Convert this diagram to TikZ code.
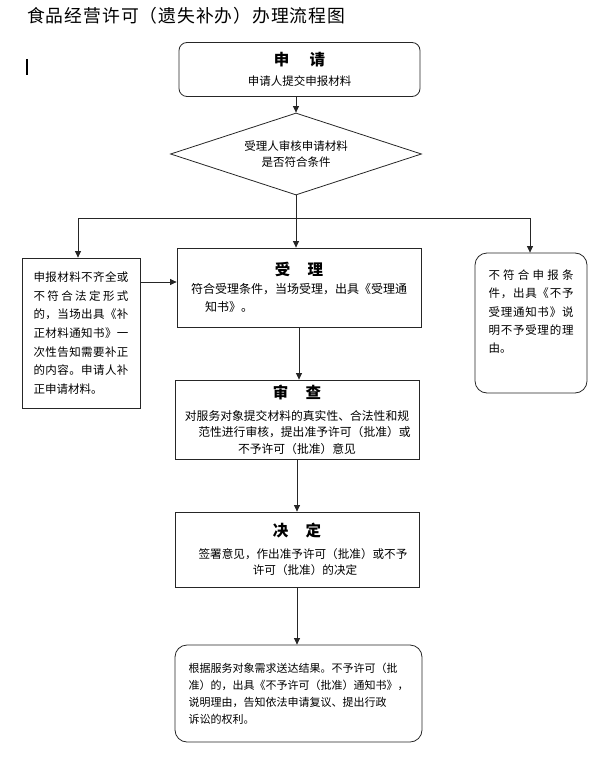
\documentclass[tikz,border=0pt]{standalone}
\usepackage{fontspec}
\setmainfont{Noto Sans CJK SC}
\usetikzlibrary{shapes.geometric,arrows.meta}
\def\sprd#1{\sprdB#1\relax}
\def\sprdB#1{#1\sprdA}
\def\sprdA#1{\ifx#1\relax\else\hfill#1\expandafter\sprdA\fi}
\newcommand\jline[2][95pt]{\makebox[#1][s]{\sprd{#2}}}
\newcommand\hd{\fontsize{15.5}{17}\selectfont\bfseries}
\tikzset{
  box/.style={draw=black!85, line width=0.8pt, inner sep=2pt, align=center,
    font=\fontsize{11.5}{17}\selectfont},
  rbox/.style={box, rounded corners=8pt},
  arr/.style={draw=black!85, line width=0.8pt, -{Triangle[length=6.5pt,width=6pt]}},
  ln/.style={draw=black!85, line width=0.8pt}
}
\begin{document}
\begin{tikzpicture}[x=1pt,y=-1pt]
\useasboundingbox (0,0) rectangle (599,759);
\node[anchor=west, inner sep=0pt, font=\fontsize{17.8}{20}\selectfont] (title) at (27,16)
  {\jline[318pt]{食品经营许可（遗失补办）办理流程图}};
\draw[line width=1.6pt] (27,59) -- (27,75);

\node[rbox, minimum width=241pt, minimum height=54pt] (apply) at (299.5,69.5)
  {{\hd 申\hspace{1.3em}请}\\[3pt]申请人提交申报材料};
\node[draw=black!85, line width=0.8pt, diamond, aspect=3.06, minimum width=251pt,
  minimum height=82pt, inner sep=0pt, align=center, font=\fontsize{11.5}{16}\selectfont]
  (check) at (296,154) {受理人审核申请材料\\是否符合条件};

\node[box, minimum width=244pt, minimum height=79pt, font=\fontsize{12}{18}\selectfont]
  (acc) at (299,287.5)
  {{\hd 受\hspace{1.1em}理}\\[0pt]符合受理条件，当场受理，出具《受理通\\
   \makebox[216pt][l]{\hspace{14pt}知书》。}};

\node[box, minimum width=118pt, minimum height=150pt, align=left,
  font=\fontsize{11.5}{18.7}\selectfont] (left) at (81,333)
  {\jline{申报材料不齐全或}\\\jline{不符合法定形式}\\\jline{的，当场出具《补}\\
   \jline{正材料通知书》一}\\\jline{次性告知需要补正}\\\jline{的内容。申请人补}\\
   正申请材料。};

\node[rbox, rounded corners=12pt, minimum width=112pt, minimum height=140pt, align=left,
  font=\fontsize{11.5}{18.3}\selectfont] (right) at (531,323)
  {\jline[85pt]{不符合申报条}\\\jline[85pt]{件，出具《不予}\\\jline[85pt]{受理通知书》说}\\
   \jline[85pt]{明不予受理的理}\\由。\\[5pt]\mbox{}};

\node[box, minimum width=244pt, minimum height=79pt, font=\fontsize{11.8}{16.5}\selectfont]
  (rev) at (297,419.5)
  {{\hd 审\hspace{1.1em}查}\\[5.5pt]对服务对象提交材料的真实性、合法性和规\\
   \hspace{15pt}范性进行审核，提出准予许可（批准）或\\不予许可（批准）意见};

\node[box, minimum width=244pt, minimum height=75pt, font=\fontsize{11.6}{16}\selectfont]
  (dec) at (297,549.5)
  {{\hd 决\hspace{1.1em}定}\\[6pt]\hspace{12pt}签署意见，作出准予许可（批准）或不予\\
   \hspace{16pt}许可（批准）的决定};

\node[rbox, rounded corners=12pt, minimum width=247pt, minimum height=97pt, align=left,
  font=\fontsize{11}{17}\selectfont] (fin) at (298.5,693.5)
  {根据服务对象需求送达结果。不予许可（批\\准）的，出具《不予许可（批准）通知书》，\\
   说明理由，告知依法申请复议、提出行政\\诉讼的权利。};

\coordinate (split) at (296,218);
\coordinate (jl) at (78,218);
\coordinate (jr) at (530,218);
\coordinate (la) at (0,282);

\draw[arr] (check.north |- apply.south) -- (check.north);
\draw[ln] (check.south) -- (split);
\draw[ln] (jl) -- (jr);
\draw[arr] (split) -- (split |- acc.north);
\draw[arr] (jl) -- (jl |- left.north);
\draw[arr] (jr) -- (jr |- right.north);
\draw[arr] (left.east |- la) -- (acc.west |- la);
\draw[arr] (acc.south) -- (acc.south |- rev.north);
\draw[arr] (rev.south) -- (dec.north);
\draw[arr] (dec.south) -- (dec.south |- fin.north);
\end{tikzpicture}
\end{document}
